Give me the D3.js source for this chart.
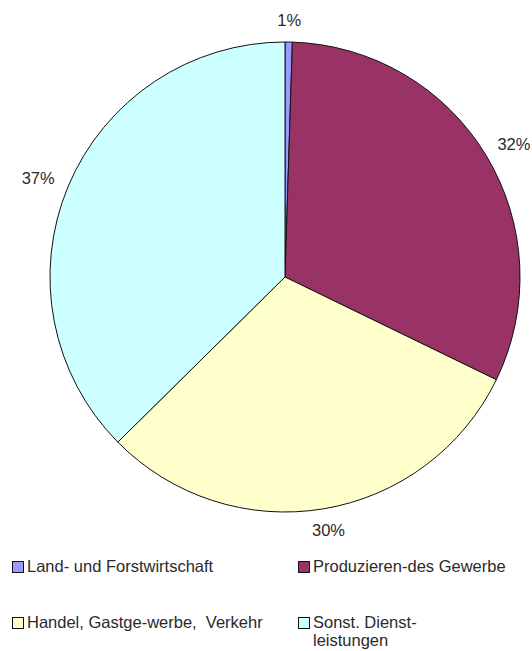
<!DOCTYPE html>
<html>
<head>
<meta charset="utf-8">
<script src="https://cdn.jsdelivr.net/npm/d3@7"></script>
<style>
  body { margin: 0; background: #fff; }
  text { font-family: "Liberation Sans", Arial, sans-serif; fill: #2a2a2a; }
</style>
</head>
<body>
<script>
'use strict';
// slice data, clockwise from 12 o'clock
const categories = ['Land- und Forstwirtschaft', 'Produzieren-des Gewerbe', 'Handel, Gastge-werbe,  Verkehr', 'Sonst. Dienst-leistungen'];
const shares = [0.5, 31.7, 30.4, 37.4];
const colors = ['#9999ff', '#993366', '#ffffcc', '#ccffff'];
// legend text lines, as wrapped in the picture
const legendLines = [['Land- und Forstwirtschaft'], ['Produzieren-des Gewerbe'], ['Handel, Gastge-werbe,  Verkehr'], ['Sonst. Dienst-', 'leistungen']];

(function() {
    let width = 532, height = 651;
    let cx = 285, cy = 277, radius = 235;

    let svg = d3.select('body')
                .append('svg')
                .attr('width', width)
                .attr('height', height);

    let data = categories.map((c, i) => ({ name: c, value: shares[i], color: colors[i], lines: legendLines[i] }));
    let total = d3.sum(shares);

    let pie = d3.pie().sort(null).value((d) => d.value);
    let arc = d3.arc().innerRadius(0).outerRadius(radius);
    let arcs = pie(data);

    let g = svg.append('g').attr('transform', 'translate(' + cx + ',' + cy + ')');
    g.selectAll('path')
        .data(arcs)
        .enter()
        .append('path')
        .attr('d', arc)
        .attr('fill', (d) => d.data.color)
        .attr('stroke', '#111')
        .attr('stroke-width', 1);

    // percentage labels outside the rim
    let fontSize = 16.5;
    let gap = 16;
    g.selectAll('.lbl')
        .data(arcs)
        .enter()
        .append('text')
        .attr('class', 'lbl')
        .style('font-size', fontSize + 'px')
        .attr('text-anchor', 'middle')
        .text((d) => Math.round(d.data.value / total * 100) + '%')
        .each(function(d) {
            let a = (d.startAngle + d.endAngle) / 2;
            let s = Math.sin(a), c = Math.cos(a);
            let w = this.getComputedTextLength();
            let h = fontSize * 0.72;
            let x = (radius + gap) * s + s * w / 2;
            let y = -(radius + gap) * c - c * h / 2;
            d3.select(this).attr('x', x).attr('y', y + h / 2);
        });

    // legend, two columns
    let colX = [12, 298];
    let rowY = [572, 628];
    let box = 11;
    let lineH = 18;
    let legend = svg.selectAll('.legend')
        .data(data)
        .enter()
        .append('g')
        .attr('class', 'legend')
        .attr('transform', (d, i) => 'translate(' + colX[i % 2] + ',' + rowY[Math.floor(i / 2)] + ')');
    legend.append('rect')
        .attr('x', 0.5)
        .attr('y', -box + 0.5)
        .attr('width', box)
        .attr('height', box)
        .attr('fill', (d) => d.color)
        .attr('stroke', '#111')
        .attr('stroke-width', 1);
    legend.each(function(d) {
        let t = d3.select(this).append('text')
            .attr('x', 15)
            .attr('y', 0)
            .style('font-size', fontSize + 'px')
            .style('white-space', 'pre');
        d.lines.forEach((line, k) => {
            t.append('tspan').attr('x', 15).attr('dy', k === 0 ? 0 : lineH).text(line);
        });
    });
})();
</script>
</body>
</html>
